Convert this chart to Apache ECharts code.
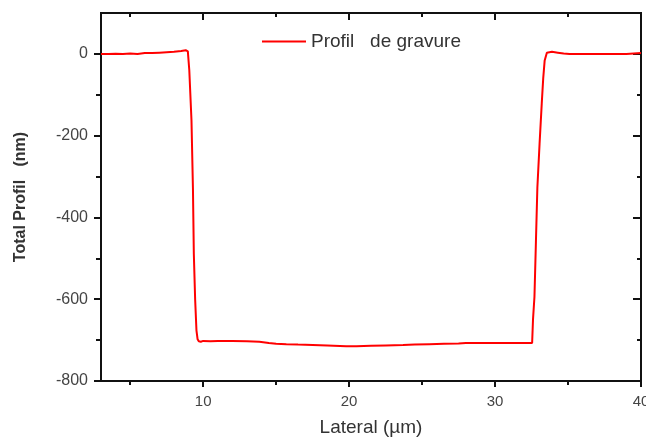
<!DOCTYPE html>
<html>
<head>
<meta charset="utf-8">
<script src="https://cdn.jsdelivr.net/npm/echarts@6/dist/echarts.min.js"></script>
<style>html,body{margin:0;padding:0;background:#fff;}#c{width:646px;height:439px;}</style>
</head>
<body>
<div id="c"></div>
<script>
// Data
const lateral = [3.0, 3.5, 4.0, 4.5, 5.0, 5.5, 6.0, 6.5, 7.0, 7.5, 8.0, 8.5, 8.8, 8.95,
  9.05, 9.2, 9.3, 9.36, 9.45, 9.54, 9.62, 9.7, 9.84, 10.0,
  10.5, 11.0, 12.0, 13.0, 13.85, 14.5, 15.0, 15.7, 16.5, 17.5, 18.5, 19.8, 20.5, 21.5, 22.5,
  23.7, 24.5, 25.5, 26.5, 27.5, 28.0, 29.0, 30.0, 31.0, 32.0, 32.54,
  32.6, 32.7, 32.8, 32.9, 33.05, 33.2, 33.3, 33.4, 33.55, 33.65, 33.9, 34.3, 34.7, 35.1,
  36.0, 37.0, 38.0, 39.0, 39.5, 40.0];
const profil = [0, 0, 0.5, 0, 1, 0, 2, 2, 3, 4, 5, 7, 9, 6,
  -40, -163, -330, -488, -600, -676, -698, -703, -704, -702,
  -703, -702, -702, -703, -704, -707, -709, -710, -711, -712, -713, -715, -715, -714, -713,
  -712, -711, -710, -709, -708, -707, -707, -707, -707, -707, -707,
  -650, -594, -460, -326, -220, -121, -60, -16, 3, 6, 5, 3, 1, 0,
  0, 0, 0, 0, 1, 2];
const xMajorTicks = [10, 20, 30, 40];
const xMinorTicks = [5, 15, 25, 35];
const yMajorTicks = [-800, -600, -400, -200, 0];
const yMinorTicks = [-700, -500, -300, -100];
const seriesName = 'Profil   de gravure';
const xTitle = 'Lateral (µm)';
const yTitle = 'Total Profil   (nm)';

const FONT = 'Liberation Sans, Arial, sans-serif';
const lineStyle = { color: '#111', width: 2 };
const xRange = { min: 3, max: 40 };
const yRange = { min: -800, max: 100 };

function xAx(pos, ticks, len, inside, labels, extra) {
  return Object.assign({
    type: 'value', position: pos, gridIndex: 0, min: xRange.min, max: xRange.max,
    axisLine: { show: true, onZero: false, lineStyle: lineStyle },
    axisTick: { show: true, inside: inside, length: len, customValues: ticks, lineStyle: { color: '#111', width: 2 } },
    axisLabel: labels ? { show: true, customValues: ticks, fontFamily: FONT, fontSize: 15, color: '#444', margin: 13 } : { show: false },
    splitLine: { show: false }
  }, extra || {});
}
function yAx(pos, ticks, len, inside, labels, extra) {
  return Object.assign({
    type: 'value', position: pos, gridIndex: 0, min: yRange.min, max: yRange.max,
    axisLine: { show: true, onZero: false, lineStyle: lineStyle },
    axisTick: { show: true, inside: inside, length: len, customValues: ticks, lineStyle: { color: '#111', width: 2 } },
    axisLabel: labels ? { show: true, customValues: ticks, fontFamily: FONT, fontSize: 16, color: '#444', margin: 13 } : { show: false },
    splitLine: { show: false }
  }, extra || {});
}

const chart = echarts.init(document.getElementById('c'), null, { renderer: 'canvas' });
chart.setOption({
  animation: false,
  backgroundColor: '#fff',
  grid: { left: 101, top: 13, width: 540, height: 368, containLabel: false, outerBoundsMode: 'none' },
  legend: {
    show: true, left: 257, top: 27, itemWidth: 44, itemHeight: 14, itemGap: 5,
    data: [{ name: seriesName, icon: 'path://M0,0 L44,0 L44,2 L0,2 Z' }],
    textStyle: { fontFamily: FONT, fontSize: 19, color: '#333' }
  },
  xAxis: [
    xAx('bottom', xMajorTicks, 6, false, true, {
      name: xTitle, nameLocation: 'middle', nameGap: 37,
      nameTextStyle: { fontFamily: FONT, fontSize: 19, color: '#333' }
    }),
    xAx('bottom', xMinorTicks, 4, false, false),
    xAx('top', xMajorTicks, 7, true, false),
    xAx('top', xMinorTicks, 4, true, false)
  ],
  yAxis: [
    yAx('left', yMajorTicks, 7, false, true, {
      name: yTitle, nameLocation: 'middle', nameGap: 72, nameRotate: 90,
      nameTextStyle: { fontFamily: FONT, fontSize: 16, fontWeight: 'bold', color: '#333' }
    }),
    yAx('left', yMinorTicks, 5, false, false),
    yAx('right', yMajorTicks, 8, true, false),
    yAx('right', yMinorTicks, 4, true, false)
  ],
  series: [{
    name: seriesName, type: 'line', xAxisIndex: 0, yAxisIndex: 0,
    data: lateral.map((x, i) => [x, profil[i]]),
    showSymbol: false, symbol: 'none', smooth: false,
    lineStyle: { color: '#ff0000', width: 2 },
    itemStyle: { color: '#ff0000' }
  }]
});
</script>
</body>
</html>
